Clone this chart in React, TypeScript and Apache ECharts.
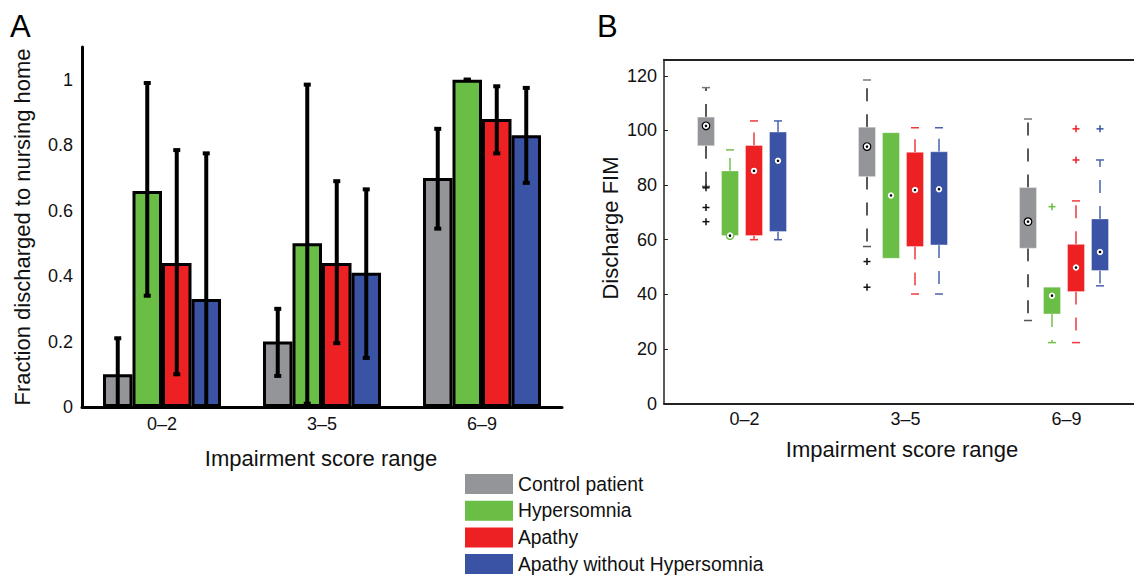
import React, { useEffect, useRef } from 'react';
import * as echarts from 'echarts';

const FONT = '"Liberation Sans", Arial, Helvetica, sans-serif';

const categories = ['0–2', '3–5', '6–9'];
const groupNames = ['Control patient', 'Hypersomnia', 'Apathy', 'Apathy without Hypersomnia'];
const groupColors = ['#939598', '#6ABD45', '#ED2024', '#3A53A4'];
const whiskerColors = ['#222222', '#72C04E', '#EE3A3E', '#4A62AC'];

// Panel A: fraction discharged to nursing home
const fractionControl = [0.1, 0.2, 0.7];
const fractionHypersomnia = [0.66, 0.5, 1.0];
const fractionApathy = [0.44, 0.44, 0.88];
const fractionApathyNoHyper = [0.33, 0.41, 0.83];

const errLowControl = [0, 0.095, 0.545];
const errHighControl = [0.21, 0.3, 0.85];
const errLowHypersomnia = [0.34, 0.01, 1.0];
const errHighHypersomnia = [0.99, 0.985, 1.0];
const errLowApathy = [0.1, 0.195, 0.775];
const errHighApathy = [0.785, 0.69, 0.98];
const errLowApathyNoHyper = [0, 0.15, 0.685];
const errHighApathyNoHyper = [0.775, 0.665, 0.975];

// Panel B: discharge FIM, [low whisker, q1, median, q3, high whisker]
const boxControl = [
  [79.5, 94.4, 101.7, 104.9, 115.7],
  [57.5, 83.1, 94.1, 101.2, 118.5],
  [30.4, 56.9, 66.6, 79.1, 104.2],
];
const boxHypersomnia = [
  [61.5, 61.5, 61.5, 85.2, 92.9],
  [53.2, 53.2, 76.2, 99.2, 99.2],
  [22.3, 32.8, 39.5, 42.6, 42.6],
];
const boxApathy = [
  [60, 61.5, 85.2, 94.5, 103.5],
  [40.1, 57.5, 78.2, 92, 101],
  [22.3, 41, 49.8, 58.3, 74.2],
];
const boxApathyNoHyper = [
  [60, 63, 88.9, 99.4, 103.5],
  [40.1, 58.1, 78.5, 92.2, 101],
  [43.1, 48.7, 55.5, 67.6, 89.2],
];
// outliers: [category index, value]
const outliersControl = [[0, 79], [0, 71.8], [0, 66.6], [1, 52], [1, 42.6]];
const outliersHypersomnia = [[2, 72.1]];
const outliersApathy = [[2, 100.6], [2, 89.2]];
const outliersApathyNoHyper = [[2, 100.6]];

const fractions = [fractionControl, fractionHypersomnia, fractionApathy, fractionApathyNoHyper];
const errLows = [errLowControl, errLowHypersomnia, errLowApathy, errLowApathyNoHyper];
const errHighs = [errHighControl, errHighHypersomnia, errHighApathy, errHighApathyNoHyper];
const boxes = [boxControl, boxHypersomnia, boxApathy, boxApathyNoHyper];
const outliers = [outliersControl, outliersHypersomnia, outliersApathy, outliersApathyNoHyper];

const BAR_W = 29.5;
const BOX_W = 17;
const BOX_OFFSETS = [-38.5, -14.5, 9.5, 33.5];

export default function App() {
  const ref = useRef<HTMLDivElement>(null);

  useEffect(() => {
    document.body.style.margin = '0';
    if (!ref.current) return;
    const chart = echarts.init(ref.current, undefined, { renderer: 'svg' });

    const series: any[] = [];

    groupNames.forEach((name, gi) => {
      series.push({
        name,
        type: 'bar',
        xAxisIndex: 0,
        yAxisIndex: 0,
        barWidth: BAR_W,
        barGap: '0%',
        data: fractions[gi],
        itemStyle: { color: groupColors[gi], borderColor: '#000', borderWidth: 3 },
        z: 2,
      });
    });

    groupNames.forEach((name, gi) => {
      const off = (gi - 1.5) * BAR_W;
      series.push({
        name: name + ' error',
        type: 'custom',
        xAxisIndex: 0,
        yAxisIndex: 0,
        z: 5,
        encode: { x: 0, y: [1, 2] },
        data: categories.map((_, ci) => [ci, errLows[gi][ci], errHighs[gi][ci]]),
        renderItem: (params: any, api: any) => {
          const c = api.value(0);
          const x = api.coord([c, 0])[0] + off;
          const y1 = api.coord([c, api.value(1)])[1];
          const y2 = api.coord([c, api.value(2)])[1];
          return {
            type: 'group',
            children: [
              { type: 'line', shape: { x1: x, y1, x2: x, y2 }, style: { stroke: '#000', lineWidth: 4 } },
              { type: 'rect', shape: { x: x - 3.5, y: y1 - 2, width: 7, height: 4 }, style: { fill: '#000' } },
              { type: 'rect', shape: { x: x - 3.5, y: y2 - 2, width: 7, height: 4 }, style: { fill: '#000' } },
            ],
          };
        },
      });
    });

    groupNames.forEach((name, gi) => {
      const off = BOX_OFFSETS[gi];
      const wc = whiskerColors[gi];
      series.push({
        name: name + ' FIM',
        type: 'custom',
        xAxisIndex: 1,
        yAxisIndex: 1,
        z: 4,
        encode: { x: 0, y: [1, 2, 3, 4, 5] },
        data: boxes[gi].map((b, ci) => [ci, ...b]),
        renderItem: (params: any, api: any) => {
          const c = api.value(0);
          const x = api.coord([c, 0])[0] + off;
          const y = (v: number) => api.coord([c, v])[1];
          const low = api.value(1), q1 = api.value(2), med = api.value(3), q3 = api.value(4), high = api.value(5);
          const children: any[] = [];
          const dash = { stroke: wc, lineWidth: 1.5, lineDash: [13, 13] };
          if (low < q1) {
            children.push({ type: 'line', shape: { x1: x, y1: y(q1), x2: x, y2: y(low) }, style: dash });
            children.push({ type: 'line', shape: { x1: x - 4, y1: y(low), x2: x + 4, y2: y(low) }, style: { stroke: gi === 0 ? '#555' : wc, lineWidth: 1.5 } });
          }
          if (high > q3) {
            children.push({ type: 'line', shape: { x1: x, y1: y(q3), x2: x, y2: y(high) }, style: dash });
            children.push({ type: 'line', shape: { x1: x - 4, y1: y(high), x2: x + 4, y2: y(high) }, style: { stroke: gi === 0 ? '#777' : wc, lineWidth: 1.5 } });
          }
          children.push({
            type: 'rect',
            shape: { x: x - BOX_W / 2, y: y(q3), width: BOX_W, height: y(q1) - y(q3) },
            style: { fill: groupColors[gi], stroke: 'rgba(255,255,255,0.35)', lineWidth: 1 },
          });
          children.push({
            type: 'circle',
            shape: { cx: x, cy: y(med), r: 3.8 },
            style: { fill: '#fff', stroke: gi === 0 ? '#000' : groupColors[gi], lineWidth: 1.2 },
          });
          children.push({ type: 'circle', shape: { cx: x, cy: y(med), r: 1.3 }, style: { fill: '#000' } });
          return { type: 'group', children };
        },
      });
      series.push({
        name: name + ' outliers',
        type: 'custom',
        xAxisIndex: 1,
        yAxisIndex: 1,
        z: 4,
        encode: { x: 0, y: 1 },
        data: outliers[gi],
        renderItem: (params: any, api: any) => {
          const c = api.value(0);
          const p = api.coord([c, api.value(1)]);
          const x = p[0] + off;
          const yy = p[1];
          const col = gi === 0 ? '#111' : groupColors[gi];
          return {
            type: 'group',
            children: [
              { type: 'line', shape: { x1: x - 3.5, y1: yy, x2: x + 3.5, y2: yy }, style: { stroke: col, lineWidth: 1.5 } },
              { type: 'line', shape: { x1: x, y1: yy - 3.5, x2: x, y2: yy + 3.5 }, style: { stroke: col, lineWidth: 1.5 } },
            ],
          };
        },
      });
    });

    const labelStyle = { fontSize: 18, color: '#111', fontFamily: FONT };

    chart.setOption({
      animation: false,
      textStyle: { fontFamily: FONT },
      grid: [
        { left: 82, top: 47, width: 480, height: 360, containLabel: false, outerBoundsMode: 'none' },
        { left: 664, top: 59.5, width: 483, height: 344, containLabel: false, outerBoundsMode: 'none' },
      ],
      xAxis: [
        {
          type: 'category',
          gridIndex: 0,
          data: categories,
          axisLine: { show: true, lineStyle: { color: '#000', width: 3 } },
          axisTick: { show: false },
          axisLabel: { ...labelStyle, margin: 8 },
          splitLine: { show: false },
        },
        {
          type: 'category',
          gridIndex: 1,
          data: categories,
          axisLine: { show: true, lineStyle: { color: '#222', width: 2 } },
          axisTick: { show: false },
          axisLabel: { ...labelStyle, margin: 6 },
          splitLine: { show: false },
        },
        {
          type: 'category',
          gridIndex: 1,
          position: 'top',
          data: categories,
          axisLine: { show: true, lineStyle: { color: '#222', width: 2 } },
          axisTick: { show: false },
          axisLabel: { show: false },
          splitLine: { show: false },
        },
      ],
      yAxis: [
        {
          type: 'value',
          gridIndex: 0,
          min: 0,
          max: 1.1,
          interval: 0.2,
          axisLine: { show: true, lineStyle: { color: '#000', width: 3 } },
          axisTick: { show: false },
          splitLine: { show: false },
          axisLabel: {
            ...labelStyle,
            margin: 9,
            showMaxLabel: false,
            formatter: (v: number) => (v > 1.05 ? '' : String(Math.round(v * 10) / 10)),
          },
        },
        {
          type: 'value',
          gridIndex: 1,
          min: 0,
          max: 126,
          interval: 20,
          axisLine: { show: true, lineStyle: { color: '#222', width: 1.5 } },
          axisTick: { show: true, inside: true, length: 4, lineStyle: { color: '#222', width: 1 } },
          splitLine: { show: false },
          axisLabel: {
            ...labelStyle,
            margin: 7,
            showMaxLabel: false,
            formatter: (v: number) => (v > 121 ? '' : String(v)),
          },
        },
      ],
      legend: {
        data: groupNames,
        orient: 'vertical',
        left: 465,
        top: 474,
        padding: 0,
        itemWidth: 48,
        itemHeight: 20,
        itemGap: 6.7,
        icon: 'rect',
        selectedMode: false,
        itemStyle: { borderWidth: 0 },
        textStyle: { fontSize: 19.3, color: '#111', fontFamily: FONT },
      },
      graphic: [
        { type: 'text', left: 10, top: 11, style: { text: 'A', fontSize: 31, fill: '#000', fontFamily: FONT } },
        { type: 'text', left: 597, top: 11, style: { text: 'B', fontSize: 31, fill: '#000', fontFamily: FONT } },
        {
          type: 'text', x: 22, y: 227, rotation: Math.PI / 2,
          style: { text: 'Fraction discharged to nursing home', fontSize: 22, fill: '#111', fontFamily: FONT, align: 'center', verticalAlign: 'middle' },
        },
        {
          type: 'text', x: 321, y: 458,
          style: { text: 'Impairment score range', fontSize: 22, fill: '#111', fontFamily: FONT, align: 'center', verticalAlign: 'middle' },
        },
        {
          type: 'text', x: 610, y: 228, rotation: Math.PI / 2,
          style: { text: 'Discharge FIM', fontSize: 22, fill: '#111', fontFamily: FONT, align: 'center', verticalAlign: 'middle' },
        },
        {
          type: 'text', x: 902, y: 449,
          style: { text: 'Impairment score range', fontSize: 22, fill: '#111', fontFamily: FONT, align: 'center', verticalAlign: 'middle' },
        },
      ],
      series,
    });

    return () => chart.dispose();
  }, []);

  return <div ref={ref} style={{ width: 1134, height: 575 }} />;
}
